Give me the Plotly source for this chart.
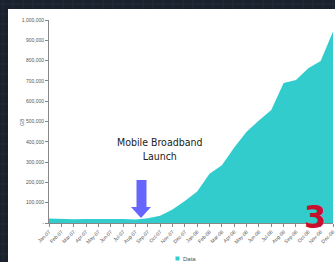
import plotly.graph_objects as go

months = ["Jan-07", "Feb-07", "Mar-07", "Apr-07", "May-07", "Jun-07", "Jul-07", "Aug-07",
          "Sep-07", "Oct-07", "Nov-07", "Dec-07", "Jan-08", "Feb-08", "Mar-08", "Apr-08",
          "May-08", "Jun-08", "Jul-08", "Aug-08", "Sep-08", "Oct-08", "Nov-08", "Dec-08"]
data_gb = [22000, 20000, 19000, 20000, 20000, 22000, 20000, 17000,
           23000, 36000, 66000, 108000, 155000, 242000, 285000, 372000,
           450000, 505000, 557000, 690000, 705000, 762000, 798000, 943000]
y_ticks = [0, 100000, 200000, 300000, 400000, 500000, 600000, 700000, 800000, 900000, 1000000]
y_tick_text = ["-"] + [f"{v:,}" for v in y_ticks[1:]]
series_name = "Data"
teal = "#33CCCC"

W, H = 335, 262
L, R, T, B = 49, 2, 20, 39
PW, PH = W - L - R, H - T - B


def px(x):
    return (x - L) / PW


def py(y):
    return (H - B - y) / PH


fig = go.Figure()
fig.add_trace(go.Scatter(
    x=months, y=data_gb, name=series_name, mode="lines",
    line=dict(width=0, color=teal), fill="tozeroy", fillcolor=teal,
    hoverinfo="skip",
))

shapes = []
# dark textured background grid
for gx in range(0, W + 10, 10):
    shapes.append(dict(type="line", xref="paper", yref="paper", x0=px(gx + 3), x1=px(gx + 3),
                       y0=py(0), y1=py(H), line=dict(color="#222c38", width=1), layer="below"))
for gy in range(0, H + 10, 10):
    shapes.append(dict(type="line", xref="paper", yref="paper", x0=px(0), x1=px(W),
                       y0=py(gy + 4), y1=py(gy + 4), line=dict(color="#222c38", width=1), layer="below"))
# white slide panel
shapes.append(dict(type="rect", xref="paper", yref="paper", x0=px(8), x1=px(W + 5),
                   y0=py(H + 5), y1=py(9), fillcolor="white", line=dict(width=0), layer="below"))
# block arrow
pts = [(136.5, 180), (146.5, 180), (146.5, 207), (151, 207), (141, 218), (131, 207), (136.5, 207)]
path = "M " + " L ".join(f"{px(a):.5f},{py(b):.5f}" for a, b in pts) + " Z"
shapes.append(dict(type="path", xref="paper", yref="paper", path=path,
                   fillcolor="#6666FF", line=dict(width=0), layer="above"))
# legend swatch
shapes.append(dict(type="rect", xref="paper", yref="paper", x0=px(175.5), x1=px(179.5),
                   y0=py(260.5), y1=py(256.5), fillcolor=teal, line=dict(width=0), layer="above"))

annotations = [
    dict(xref="paper", yref="paper", x=px(115), y=py(164), text="Mobile Broadband<br>Launch",
         showarrow=False, font=dict(family="Liberation Sans Narrow, DejaVu Sans Condensed, sans-serif",
                                    size=10.5, color="#222222"), align="center"),
    dict(xref="paper", yref="paper", x=px(17), y=py(122), text="GB", textangle=-90,
         showarrow=False, font=dict(family="Liberation Sans, sans-serif", size=5, color="#555555")),
    dict(xref="paper", yref="paper", x=px(180.5), y=py(258.5), xanchor="left", yanchor="middle",
         text=series_name, showarrow=False,
         font=dict(family="Liberation Sans, sans-serif", size=6, color="#555555")),
    dict(xref="paper", yref="paper", x=px(328), y=py(238), text="<b>3</b>",
         showarrow=False, font=dict(family="DejaVu Sans, sans-serif", size=32, color="#c8102e")),
]

fig.update_layout(
    width=W, height=H, autosize=False,
    margin=dict(l=L, r=R, t=T, b=B, pad=0),
    paper_bgcolor="#19212c", plot_bgcolor="white",
    shapes=shapes, annotations=annotations,
    showlegend=False, hovermode=False,
    xaxis=dict(type="category", range=[0, len(months) - 1], showgrid=False, automargin=False,
               showline=True, linecolor="#888888", linewidth=1,
               ticks="outside", ticklen=3, tickcolor="#888888", tickangle=-45,
               tickfont=dict(family="Liberation Sans, sans-serif", size=5, color="#555555"),
               zeroline=False),
    yaxis=dict(range=[0, 1000000], tickvals=y_ticks, ticktext=y_tick_text, showgrid=False,
               automargin=False,
               showline=True, linecolor="#888888", linewidth=1,
               ticks="outside", ticklen=3, tickcolor="#888888",
               tickfont=dict(family="Liberation Sans, sans-serif", size=5, color="#555555"),
               zeroline=False),
)

fig.write_html("out.html",
               config={"displayModeBar": False, "staticPlot": True},
               post_script="document.body.style.margin='0';document.body.style.padding='0';"
                           "document.body.style.overflow='hidden';"
                           "document.body.style.background='#19212c';")
